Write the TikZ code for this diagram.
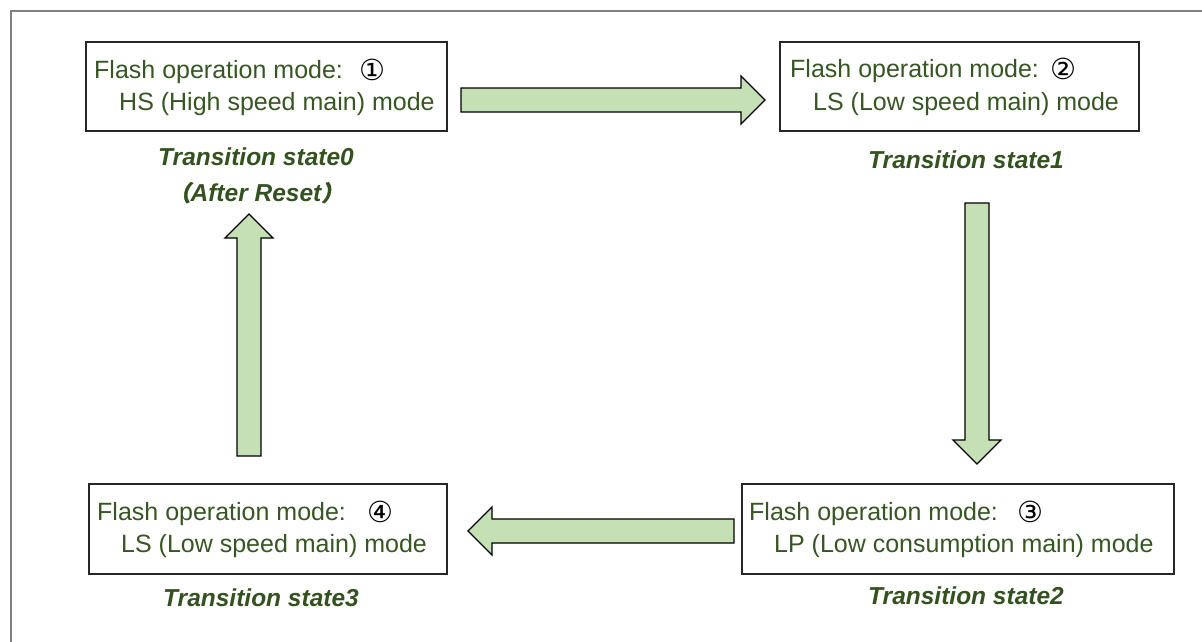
\documentclass[tikz,border=0pt]{standalone}
\usepackage{fontspec}
\setmainfont{Liberation Sans}
\newfontfamily\circfont{DejaVu Sans}
\newfontfamily\cjkfont[FakeSlant=0.2,FakeBold=1.5]{Noto Sans CJK JP}
\usetikzlibrary{calc}
\definecolor{txtgreen}{HTML}{375623}
\definecolor{titlegreen}{HTML}{33521F}
\definecolor{arrowfill}{HTML}{C5E0B4}
\definecolor{framegray}{HTML}{808080}
\definecolor{boxline}{HTML}{262626}
\newcommand\blockarrow[2]{%
  \draw[blockarrowstyle] let \p1=(#1), \p2=(#2),
    \n1={atan2(\y2-\y1,\x2-\x1)}, \n2={veclen(\x2-\x1,\y2-\y1)} in
    [shift={(\p1)}, rotate=\n1]
    (0pt,-12pt) -- ({\n2*1pt-24pt},-12pt) -- ({\n2*1pt-24pt},-24pt) -- ({\n2*1pt},0pt)
    -- ({\n2*1pt-24pt},24pt) -- ({\n2*1pt-24pt},12pt) -- (0pt,12pt) -- cycle;}
\begin{document}
\begin{tikzpicture}[x=1pt,y=-1pt,
  modebox/.style={draw=boxline, line width=1.5pt, fill=white, inner sep=0pt, outer sep=0pt, anchor=north west},
  modetext/.style={text=txtgreen, anchor=base west, inner sep=0pt, font=\fontsize{25}{30}\selectfont},
  numtext/.style={text=black, anchor=base west, inner sep=0pt, font=\circfont\fontsize{29}{30}\selectfont},
  statetext/.style={text=titlegreen, anchor=base, inner sep=0pt, font=\bfseries\itshape\fontsize{24.5}{30}\selectfont},
  blockarrowstyle/.style={draw=black, fill=arrowfill, line width=1.3pt, line join=miter}
]
\useasboundingbox (0,0) rectangle (1202,641);
\fill[white] (0,0) rectangle (1202,641);
\draw[framegray, line width=2pt] (11,645) -- (11,11) -- (1206,11);

% boxes
\node[modebox, minimum width=361pt, minimum height=89pt] (b1) at (86,42) {};
\node[modebox, minimum width=359pt, minimum height=89pt] (b2) at (780,42) {};
\node[modebox, minimum width=432pt, minimum height=90pt] (b3) at (742,484) {};
\node[modebox, minimum width=358pt, minimum height=90pt] (b4) at (89,484) {};

% box texts
\node[modetext] (t1a) at (94,78) {Flash operation mode:};
\node[numtext]  (n1)  at (359,80) {①};
\node[modetext] (t1b) at (119,110) {HS (High speed main) mode};

\node[modetext] (t2a) at (790,77) {Flash operation mode:};
\node[numtext]  (n2)  at (1050,79) {②};
\node[modetext] (t2b) at (813,110) {LS (Low speed main) mode};

\node[modetext] (t3a) at (749,520) {Flash operation mode:};
\node[numtext]  (n3)  at (1017,522) {③};
\node[modetext] (t3b) at (774,552) {LP (Low consumption main) mode};

\node[modetext] (t4a) at (97,520) {Flash operation mode:};
\node[numtext]  (n4)  at (367,522) {④};
\node[modetext] (t4b) at (121,552) {LS (Low speed main) mode};

% state labels
\node[statetext] (s0)  at (256,165) {Transition state0};
\node[statetext] (s0b) at (256,201) {{\cjkfont\fontsize{22}{26}\selectfont（}After Reset{\cjkfont\fontsize{22}{26}\selectfont）}};
\node[statetext] (s1)  at (966,168) {Transition state1};
\node[statetext] (s2)  at (966,604) {Transition state2};
\node[statetext] (s3)  at (261,606) {Transition state3};

% arrow end points
\coordinate (a1s) at (461,100);
\coordinate (a1e) at (765,100);
\coordinate (a2s) at (977,203);
\coordinate (a2e) at (977,464);
\coordinate (a3s) at (734,531);
\coordinate (a3e) at (468,531);
\coordinate (a4s) at (249,456);
\coordinate (a4e) at (249,214);

\blockarrow{a1s}{a1e}
\blockarrow{a2s}{a2e}
\blockarrow{a3s}{a3e}
\blockarrow{a4s}{a4e}
\end{tikzpicture}
\end{document}
